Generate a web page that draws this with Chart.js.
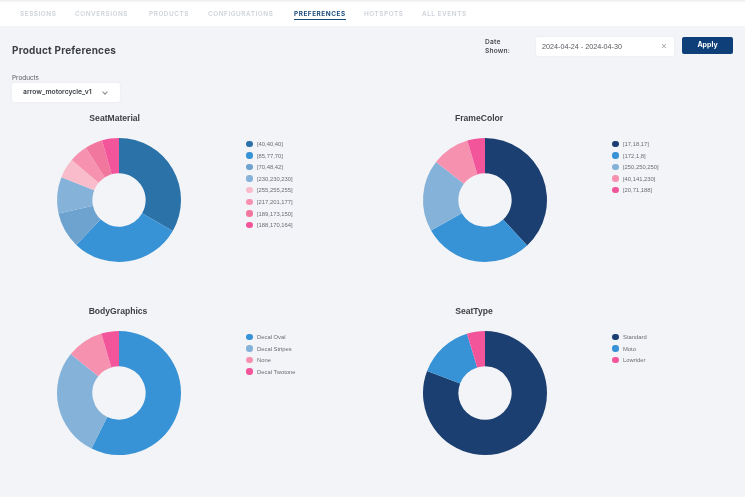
<!DOCTYPE html>
<html>
<head>
<meta charset="UTF-8" />
<title>Product Preferences</title>
<script src="https://cdn.jsdelivr.net/npm/chart.js@4"></script>
<style>
html,body{margin:0;padding:0;background:#f3f4f8;}
body{width:745px;height:497px;position:relative;overflow:hidden;font-family:Inter,"Noto Sans",sans-serif;color:#3d4046;}
#page{position:absolute;left:0;top:0;width:745px;height:497px;filter:blur(.3px);}
.abs{position:absolute;white-space:nowrap;}
#nav{position:absolute;left:0;top:0;width:745px;height:26px;background:#fff;box-shadow:inset 0 3px 3px -2px #e4e6ea;}
.tab{position:absolute;top:9.5px;font-size:6.4px;font-weight:600;letter-spacing:.55px;color:#cdd2d8;}
.tab.on{color:#1c4a78;font-weight:700;border-bottom:1.5px solid #1c4a78;padding-bottom:1px;}
#heading{left:12px;top:44px;font-size:10px;font-weight:700;letter-spacing:.2px;color:#3c3f45;}
#dateLabel{left:485px;top:37.5px;font-size:6.6px;font-weight:600;line-height:9.5px;letter-spacing:.2px;color:#4a4d53;}
#dateBox{left:536px;top:37px;width:132px;height:19px;padding-left:6px;background:#fff;border-radius:2px;font-family:"Liberation Sans",sans-serif;font-size:7.2px;line-height:19px;color:#55585e;box-shadow:0 0 2px #e2e4ea;}
#dateClear{left:661px;top:40px;font-size:9px;color:#a0a4aa;}
#apply{left:682px;top:37px;width:51px;height:17px;background:#0f3f78;border-radius:2px;color:#fff;font-size:7px;font-weight:700;line-height:16px;text-align:center;}
#prodLabel{left:12px;top:74px;font-size:6.4px;color:#55585e;}
#prodBox{left:12px;top:83px;width:108px;height:19px;background:#fff;border-radius:2px;box-shadow:0 0 2px #dfe2e8;font-size:6.8px;font-weight:600;line-height:18px;color:#3d4046;text-indent:11px;}
#prodArrow{left:103px;top:90px;width:3px;height:3px;border-right:.8px solid #888;border-bottom:.8px solid #888;transform:rotate(45deg);}
.chartTitle{position:absolute;transform:translateX(-50%);font-family:"Liberation Sans",sans-serif;font-size:8.6px;font-weight:700;color:#3f4146;}
.donut{position:absolute;width:130px;height:130px;}
.legendRow{position:absolute;font-family:"Liberation Sans",sans-serif;font-size:5.85px;color:#6a6d73;white-space:nowrap;line-height:8px;}
.legendRow i{position:absolute;left:-11px;top:.5px;width:6.5px;height:6.5px;border-radius:50%;}
</style>
</head>
<body>
<div id="page">
<div id="nav"></div>
<div id="heading" class="abs">Product Preferences</div>
<div id="dateLabel" class="abs">Date<br>Shown:</div>
<div id="dateBox" class="abs">2024-04-24 - 2024-04-30</div>
<div id="dateClear" class="abs">×</div>
<div id="apply" class="abs">Apply</div>
<div id="prodLabel" class="abs">Products</div>
<div id="prodBox" class="abs">arrow_motorcycle_v1</div>
<div id="prodArrow" class="abs"></div>
</div>
<script>
const tabNames = ["SESSIONS","CONVERSIONS","PRODUCTS","CONFIGURATIONS","PREFERENCES","HOTSPOTS","ALL EVENTS"];
const tabLefts = [20,75,149,208,294,364,422];

const seatMaterialLabels = ["[40,40,40]","[85,77,70]","[70,48,42]","[230,230,230]","[255,255,255]","[217,201,177]","[189,173,150]","[188,170,164]"];
const seatMaterialValues = [33.3,28.8,9.4,9.5,5.2,4.8,4.6,4.4];
const seatMaterialColors = ["#2a72a8","#3792d6","#6ea3cf","#85b2d9","#f8bccb","#f692b0","#f2779f","#f2559a"];

const frameColorLabels = ["[17,18,17]","[172,1,8]","[250,250,250]","[40,141,230]","[20,71,188]"];
const frameColorValues = [38.1,28.7,18.7,9.9,4.6];
const frameColorColors = ["#1a3f70","#3792d6","#85b2d9","#f692b0","#f2559a"];

const bodyGraphicsLabels = ["Decal Oval","Decal Stripes","None","Decal Twotone"];
const bodyGraphicsValues = [57.3,28.5,9.6,4.6];
const bodyGraphicsColors = ["#3792d6","#85b2d9","#f692b0","#f2559a"];

const seatTypeLabels = ["Standard","Moto","Lowrider"];
const seatTypeValues = [80.8,14.5,4.7];
const seatTypeColors = ["#1a3f70","#3792d6","#f2559a"];

const page = document.getElementById("page");

tabNames.forEach(function(name,i){
  var d=document.createElement("div");
  d.className="tab"+(name=="PREFERENCES"?" on":"");
  d.style.left=tabLefts[i]+"px";
  d.textContent=name;
  page.appendChild(d);
});

// cx,cy = donut centre; titleX = title centre; legendX = legend text left
function addDonut(title,labels,values,colors,cx,cy,titleX,legendX){
  var t=document.createElement("div");
  t.className="chartTitle";
  t.style.left=titleX+"px";
  t.style.top=(cy-87)+"px";
  t.textContent=title;
  page.appendChild(t);

  var box=document.createElement("div");
  box.className="donut";
  box.style.left=(cx-65)+"px";
  box.style.top=(cy-65)+"px";
  var c=document.createElement("canvas");
  box.appendChild(c);
  page.appendChild(box);

  new Chart(c,{
    type:"doughnut",
    data:{labels:labels,datasets:[{data:values,backgroundColor:colors,borderWidth:0}]},
    options:{
      responsive:true,
      maintainAspectRatio:false,
      animation:false,
      cutout:"43%",
      layout:{padding:3},
      plugins:{legend:{display:false},tooltip:{enabled:false}}
    }
  });

  // html legend, chart.js would push the donut off centre
  labels.forEach(function(l,i){
    var r=document.createElement("div");
    r.className="legendRow";
    r.style.left=legendX+"px";
    r.style.top=(cy-60+i*11.6)+"px";
    r.textContent=l;
    var dot=document.createElement("i");
    dot.style.background=colors[i];
    r.appendChild(dot);
    page.appendChild(r);
  });
}

addDonut("SeatMaterial",seatMaterialLabels,seatMaterialValues,seatMaterialColors,118.7,200,114.7,257);
addDonut("FrameColor",frameColorLabels,frameColorValues,frameColorColors,485,200,479,623);
addDonut("BodyGraphics",bodyGraphicsLabels,bodyGraphicsValues,bodyGraphicsColors,118.7,393,118,257);
addDonut("SeatType",seatTypeLabels,seatTypeValues,seatTypeColors,485,393,474,623);
</script>
</body>
</html>
